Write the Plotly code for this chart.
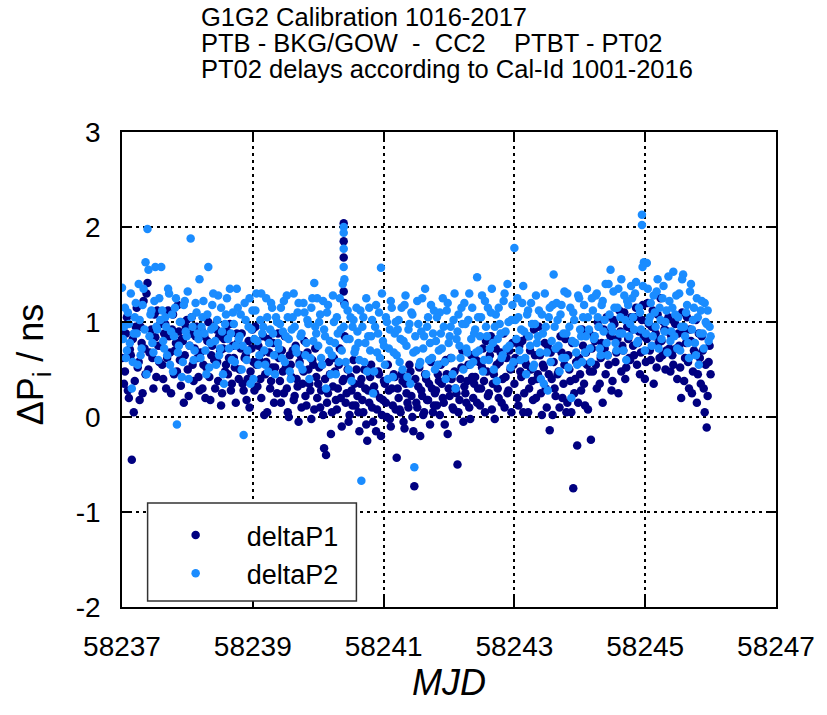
import numpy as np
import plotly.graph_objects as go

# ---------------- data ----------------
mjd_start = 58237.0
mjd_step = 0.03          # epoch spacing of the first satellite set
mjd_offset_b = 0.015     # second satellite set sits between the epochs

delta_p1 = [
    0.62, 0.35, 0.88, 0.28, 0.71, -0.45, 0.05, 0.95, 0.52, 0.18, 0.78, 1.22, 0.45, 1.41, 0.68, 0.92, 0.30, 0.84, 1.12, 0.58,
    0.75, 0.40, 0.98, 0.62, 0.85, 0.25, 1.08, 0.70, 0.48, 0.90, 0.33, 0.80, 0.65, 1.02, 0.22, 0.88, 0.55, 0.72, 0.95, 0.42,
    0.68, 0.30, 0.85, 0.52, 1.00, 0.18, 0.75, 0.60, 0.92, 0.38, 0.70, 0.25, 0.82, 0.55, 0.45, 0.98, 0.35, 0.62, 0.15, 0.78,
    0.50, 0.88, 0.28, 0.65, 0.40, 0.10, 0.72, 0.58, 0.95, 0.32, 0.60, 0.20, 0.85, 0.45, 0.05, 0.68, 0.38, 0.78, 0.52, 0.25,
    0.62, 0.15, 0.48, 0.85, 0.30, 0.00, 0.55, 0.70, 0.22, 0.40, -0.05, 0.65, 0.35, 0.80, 0.12, 0.50, 0.28, 0.60, 0.08, 0.42,
    0.35, 0.10, 0.55, -0.33, -0.40, 0.25, 0.45, 0.05, 0.62, 0.18, 0.30, 0.72, -0.10, 0.40, 0.15, 0.50, 0.02, 0.28, 0.60, 0.12,
    0.22, -0.15, 0.40, 0.05, 0.30, -0.25, 0.15, 0.55, -0.05, 0.25, 0.08, 0.45, -0.20, 0.18, 0.35, 0.00, 0.28, -0.10, 0.12, 0.42,
    -0.43, 0.20, 0.05, 0.38, -0.12, 0.25, 0.10, 0.48, 0.00, -0.73, 0.15, 0.32, -0.20, 0.22, 0.05, 0.40, 0.18, -0.08, 0.30, 0.12,
    0.28, 0.45, 0.02, 0.35, 0.15, 0.60, -0.18, 0.22, 0.40, 0.08, 0.30, -0.50, 0.18, 0.52, -0.05, 0.25, 0.38, 0.10, 0.65, 0.20,
    0.42, 0.15, 0.58, 0.30, 0.72, 0.05, 0.48, 0.25, 0.85, 0.35, -0.02, 0.55, 0.20, 0.68, 0.40, 0.10, 0.62, 0.28, 0.50, 0.78,
    0.35, 0.60, 0.12, 0.48, 0.80, 0.25, 0.55, 0.05, 0.70, 0.38, 0.92, 0.20, 0.45, 0.65, 0.02, 0.52, 0.30, 0.75, -0.14, 0.40,
    0.58, 0.22, 0.45, 0.10, 0.68, 0.35, 0.82, 0.15, 0.50, 0.05, -0.75, 0.40, -0.30, 0.62, 0.28, 0.75, 0.12, 0.55, 0.90, -0.24,
    0.48, 0.80, 0.30, 0.95, 0.62, 0.15, 0.72, 1.05, 0.55, 0.85, 0.38, 0.98, 0.68, 0.25, 0.90, 0.75, 1.10, 0.52, 0.82, 0.60,
    0.92, 0.65, 1.15, 0.78, 0.45, 1.02, 0.85, 0.58, 1.20, 0.70, 0.95, 0.35, 0.88, 1.08, 0.62, 0.80, 1.00, 0.50, 0.90, 0.72,
    0.85, 0.55, 0.98, 0.40, 0.75, 0.20, 0.90, 0.62, 1.05, 0.30, 0.80, 0.48, 0.68, 0.15, 0.88, 0.35, 0.70, 0.05, -0.11, 0.58,
    0.45,
]

delta_p1_b = [
    0.90, 0.48, 1.05, 0.20, 0.65, 0.82, 0.38, 1.15, 0.58, 0.95, 0.25, 0.72, 1.30, 0.50, 0.85, 0.62, 1.08, 0.42, 0.75, 0.98,
    0.55, 0.88, 0.30, 1.12, 0.68, 0.92, 0.45, 0.78, 1.18, 0.60, 0.82, 0.15, 0.95, 0.50, 0.75, 1.05, 0.38, 0.85, 0.62, 0.28,
    0.92, 0.55, 0.20, 0.80, 0.42, 0.65, 0.95, 0.30, 0.58, 0.85, 0.12, 0.72, 0.48, 0.90, 0.62, 0.28, 0.75, 0.52, 0.88, 0.40,
    0.72, 0.35, 0.62, 0.18, 0.80, 0.48, 0.92, 0.28, 0.55, 0.75, 0.40, 0.68, 0.02, 0.58, 0.82, 0.30, 0.52, 0.15, 0.65, 0.88,
    0.38, 0.70, 0.25, 0.52, 0.05, 0.65, 0.42, 0.18, 0.75, 0.32, 0.58, 0.10, 0.48, 0.22, 0.68, 0.35, -0.02, 0.55, 0.72, 0.20,
    0.52, 0.28, 0.02, 0.40, 0.15, 0.58, -0.18, 0.32, 0.48, 0.08, 0.55, 0.20, 0.38, 0.85, 0.25, -0.05, 0.42, 0.12, 0.35, 0.50,
    0.05, 0.35, 0.18, 0.50, -0.08, 0.28, 0.42, 0.10, 0.32, -0.15, 0.48, 0.20, 0.02, 0.38, 0.15, 0.55, -0.02, 0.30, 0.45, 0.08,
    0.30, 0.08, 0.45, -0.05, 0.35, 0.15, 0.55, 0.22, -0.15, 0.40, 0.10, 0.52, 0.28, 0.02, 0.45, 0.18, 0.35, 0.58, 0.05, 0.25,
    0.12, 0.38, 0.55, 0.20, -0.08, 0.45, 0.30, 0.62, 0.10, 0.48, 0.25, 0.05, 0.40, 0.70, 0.32, 0.15, 0.55, -0.02, 0.42, 0.35,
    0.60, 0.30, 0.12, 0.52, 0.38, 0.80, 0.22, 0.65, 0.08, 0.45, 0.72, 0.30, 0.58, 0.15, 0.88, 0.42, 0.25, 0.70, 0.05, 0.55,
    0.62, 0.20, 0.75, 0.42, 0.05, 0.58, 0.85, 0.30, 0.50, 0.18, 0.65, 0.40, 0.95, 0.25, 0.55, 0.78, 0.10, 0.45, 0.68, 0.02,
    0.30, 0.72, 0.48, 0.85, 0.20, 0.55, 0.05, 0.65, 0.38, 0.78, 0.25, 0.58, 0.15, 0.45, 0.92, 0.35, 0.68, 0.08, 0.48, 0.72,
    0.85, 0.55, 1.00, 0.35, 0.78, 0.92, 0.45, 0.65, 0.88, 0.28, 1.02, 0.58, 0.82, 1.12, 0.48, 0.70, 0.40, 0.95, 0.62, 1.05,
    0.75, 1.05, 0.55, 0.90, 0.68, 1.18, 0.40, 0.82, 0.98, 0.60, 1.12, 0.85, 0.52, 0.78, 1.25, 0.65, 0.92, 0.70, 1.05, 0.48,
    0.65, 1.00, 0.72, 0.88, 0.52, 1.10, 0.38, 0.78, 0.58, 0.92, 0.25, 0.70, 1.02, 0.45, 0.62, 0.85, 0.30, 0.55, 0.22, 0.75,
]

delta_p2 = [
    1.36, 0.95, 0.62, 1.10, 0.78, 0.30, 0.88, 1.20, 0.55, 1.02, 0.72, 1.35, 1.63, 1.98, 0.85, 1.12, 0.68, 1.58, 0.92, 1.25,
    1.58, 0.80, 1.05, 0.65, 1.30, 0.90, 0.48, 1.15, -0.08, 0.75, 1.00, 0.58, 1.22, 0.85, 0.40, 1.88, 0.95, 0.70, 1.10, 0.82,
    0.62, 1.05, 0.88, 0.45, 1.58, 0.78, 1.18, 0.95, 0.55, 1.28, 0.72, 0.90, 0.35, 1.08, 0.82, 1.35, 0.60, 0.98, 0.75, 1.15,
    0.85, 0.50, -0.19, 1.02, 0.70, 1.25, 0.92, 0.40, 1.12, 0.80, 0.65, 1.30, 0.95, 0.55, 1.05, 0.78, 1.20, 0.88, 0.45, 1.00,
    0.72, 1.15, 0.90, 0.58, 1.28, 0.82, 0.40, 1.05, 0.95, 0.68, 1.20, 0.85, 0.50, 1.10, 0.78, 0.98, 0.62, 1.25, 1.41, 0.88,
    0.75, 1.08, 0.55, 0.92, 0.30, 1.18, 0.80, 0.65, 1.00, 0.45, 0.88, 1.25, 0.70, 0.95, 0.58, 1.12, 0.82, 0.38, 1.02, 0.72,
    0.90, 0.60, -0.67, 1.05, 0.78, 0.48, 1.15, 0.85, 0.25, 0.95, 0.68, 1.10, 1.57, 0.80, 0.55, 1.00, 0.72, 1.22, 0.42, 0.88,
    0.65, 1.02, 0.82, 0.50, 1.18, 0.75, 0.92, 0.35, 1.08, -0.53, 0.70, 0.98, 0.58, 1.25, 0.85, 0.45, 1.05, 0.78, 0.62, 1.12,
    0.80, 0.55, 1.10, 0.72, 0.95, 0.40, 1.20, 0.85, 0.62, 1.02, 0.30, 0.90, 0.75, 1.15, 0.50, 0.98, 0.68, 1.30, 0.82, 0.58,
    0.92, 1.47, 0.70, 1.05, 0.48, 1.22, 0.85, 0.60, 1.10, 0.78, 0.95, 0.38, 1.15, 0.88, 0.65, 1.30, 0.72, 1.00, 0.52, 1.18,
    1.78, 0.82, 1.05, 0.60, 1.20, 0.90, 0.45, 1.12, 0.75, 0.98, 0.55, 1.28, 0.85, 0.68, 1.08, 0.35, 0.95, 0.28, 1.15, 0.80,
    1.50, 0.72, 1.02, 0.48, 1.18, 0.88, 0.62, 1.30, 0.95, 0.20, 1.10, 0.78, 0.55, 1.25, 0.85, 1.05, 0.68, 1.35, 0.92, 0.58,
    1.12, 0.85, 1.30, 0.95, 0.65, 1.22, 1.02, 0.78, 1.40, 1.55, 0.90, 1.15, 0.70, 1.35, 1.05, 0.88, 1.28, 0.60, 1.18, 0.98,
    1.25, 0.92, 1.42, 0.80, 1.10, 2.13, 1.63, 0.88, 1.35, 1.05, 0.75, 1.28, 0.95, 1.45, 1.15, 0.82, 1.38, 1.00, 0.68, 1.22,
    0.90, 1.53, 1.08, 0.72, 1.30, 0.95, 1.50, 0.85, 1.18, 0.62, 1.40, 1.02, 0.78, 1.25, 0.55, 1.12, 0.88, 1.20, 0.98, 0.80,
    0.85,
]

delta_p2_b = [
    0.82, 1.15, 0.70, 0.98, 1.30, 0.58, 1.05, 0.88, 1.40, 0.65, 1.18, 0.92, 0.45, 1.55, 1.08, 0.78, 1.22, 0.95, 0.60, 1.02,
    1.12, 0.72, 0.95, 1.35, 0.55, 1.08, 0.85, 1.25, 0.68, 1.00, 0.42, 1.18, 0.90, 1.32, 0.75, 1.05, 0.60, 1.20, 0.88, 1.45,
    0.95, 1.22, 0.70, 1.08, 0.52, 0.92, 1.30, 0.80, 1.02, 0.65, 1.15, 0.45, 0.98, 1.25, 0.72, 0.88, 1.10, 0.58, 1.35, 0.82,
    1.08, 0.75, 1.20, 0.60, 0.95, 0.35, 1.12, 0.82, 1.30, 0.55, 1.02, 0.88, 0.70, 1.25, 0.48, 0.92, 1.15, 0.65, 1.05, 0.78,
    0.98, 0.62, 1.22, 0.85, 1.05, 0.48, 0.92, 1.30, 0.72, 1.10, 0.55, 0.88, 1.20, 0.65, 1.02, 0.40, 1.15, 0.80, 0.95, 1.25,
    1.00, 0.62, 1.22, 0.85, 1.10, 0.70, 0.45, 1.28, 0.78, 1.05, 0.58, 0.92, 1.40, 1.18, 0.82, 0.50, 1.05, 0.95, 0.68, 1.15,
    0.78, 1.12, 0.95, 0.58, 1.25, 0.85, 0.70, 1.02, 0.48, 1.18, 0.88, 0.62, 1.30, 0.75, 1.05, 0.40, 0.92, 1.15, 0.68, 1.00,
    0.92, 0.58, 1.15, 0.80, 1.28, 0.42, 0.98, 1.10, 0.68, 0.85, 1.22, 0.55, 0.90, 0.72, 1.35, 0.95, 0.60, 1.18, 0.88, 0.50,
    1.05, 0.70, 0.88, 1.25, 0.58, 1.12, 0.78, 0.95, 0.45, 1.30, 0.82, 1.08, 0.62, 0.98, 1.20, 0.72, 1.02, 0.55, 1.15, 0.88,
    0.68, 1.05, 0.85, 1.28, 0.60, 0.95, 1.15, 0.72, 1.35, 0.50, 1.08, 0.82, 0.98, 0.62, 1.22, 0.90, 1.40, 0.75, 1.02, 0.58,
    1.02, 1.25, 0.70, 0.92, 1.38, 0.62, 1.08, 0.85, 1.20, 0.52, 0.98, 0.78, 1.12, 0.40, 0.88, 1.30, 0.68, 1.05, 0.58, 1.18,
    0.95, 1.20, 0.75, 1.08, 0.62, 1.32, 0.88, 0.52, 1.15, 0.80, 1.02, 0.68, 1.28, 0.92, 0.58, 1.18, 0.85, 1.05, 0.72, 1.25,
    0.82, 1.28, 1.05, 0.72, 1.18, 0.90, 1.40, 0.65, 1.08, 0.95, 1.32, 0.78, 1.15, 0.88, 1.45, 0.70, 1.02, 1.22, 0.85, 1.38,
    1.05, 1.30, 0.78, 1.15, 0.92, 1.38, 0.70, 1.62, 1.00, 1.20, 0.85, 1.10, 1.32, 0.72, 1.02, 1.25, 0.90, 1.12, 1.48, 0.80,
    1.15, 0.85, 1.28, 1.05, 0.70, 1.45, 0.95, 1.10, 0.78, 1.32, 0.92, 1.15, 0.65, 1.05, 0.88, 1.22, 0.72, 1.00, 1.12, 0.95,
]

# isolated epochs (spikes) read separately
p1_extra_mjd = [58240.39, 58240.39, 58240.39, 58240.39, 58240.40]
p1_extra_val = [2.04, 1.85, 1.68, 1.32, 1.20]
p2_extra_mjd = [58240.39, 58240.39, 58240.39, 58240.39, 58240.40, 58244.95, 58244.96]
p2_extra_val = [2.00, 1.94, 1.77, 1.58, 1.45, 2.02, 1.58]

x_ticks = [58237, 58239, 58241, 58243, 58245, 58247]
y_ticks = [-2, -1, 0, 1, 2, 3]
title_lines = [
    "G1G2 Calibration 1016-2017",
    "PTB - BKG/GOW  -  CC2    PTBT - PT02",
    "PT02 delays according to Cal-Id 1001-2016",
]

# ---------------- build ----------------
def epochs(n, offset=0.0):
    return list(mjd_start + offset + mjd_step * np.arange(n))

mjd1 = epochs(len(delta_p1)) + epochs(len(delta_p1_b), mjd_offset_b) + p1_extra_mjd
val1 = delta_p1 + delta_p1_b + p1_extra_val
mjd2 = epochs(len(delta_p2)) + epochs(len(delta_p2_b), mjd_offset_b) + p2_extra_mjd
val2 = delta_p2 + delta_p2_b + p2_extra_val

FONT = "Liberation Sans, Arial, sans-serif"
DARK = "#000080"
LIGHT = "#1a8cff"

fig = go.Figure()
fig.add_trace(go.Scatter(x=mjd1, y=val1, mode="markers", name="deltaP1",
                         marker=dict(color=DARK, size=8.5, line=dict(width=0))))
fig.add_trace(go.Scatter(x=mjd2, y=val2, mode="markers", name="deltaP2",
                         marker=dict(color=LIGHT, size=8.5, line=dict(width=0))))

axis_common = dict(
    showline=True, linecolor="black", linewidth=1.5, mirror="ticks",
    ticks="inside", ticklen=10, tickwidth=1.5, tickcolor="black",
    showgrid=True, gridcolor="black", gridwidth=2, griddash="2.5px,4.5px",
    zeroline=False, tickfont=dict(family=FONT, size=28, color="black"),
    ticklabelstandoff=14,
)

fig.update_xaxes(range=[58237, 58247], tickvals=x_ticks,
                 ticktext=[str(v) for v in x_ticks], **axis_common)
fig.update_yaxes(range=[-2, 3], tickvals=y_ticks,
                 ticktext=[str(v) for v in y_ticks], **axis_common)

annotations = []
for line, ypx in zip(title_lines, [17, 43, 69]):
    annotations.append(dict(
        text=line, xref="paper", yref="paper",
        x=(200 - 122) / 664, y=(607 - ypx) / 475,
        xanchor="left", yanchor="middle", showarrow=False,
        font=dict(family=FONT, size=25.5, color="black")))
annotations.append(dict(
    text="ΔP<sub>i</sub> / ns", xref="paper", yref="paper",
    x=(32 - 122) / 664, y=(607 - 364) / 475, textangle=-90,
    xanchor="center", yanchor="middle", showarrow=False,
    font=dict(family=FONT, size=36, color="black")))
annotations.append(dict(
    text="<i>MJD</i>", xref="paper", yref="paper",
    x=0.5, y=(607 - 682) / 475,
    xanchor="center", yanchor="middle", showarrow=False,
    font=dict(family=FONT, size=36, color="black")))

fig.update_layout(
    width=827, height=715,
    margin=dict(l=122, r=41, t=132, b=108),
    paper_bgcolor="white", plot_bgcolor="white",
    showlegend=True,
    legend=dict(x=(145 - 122) / 664, y=(607 - 511) / 475,
                xanchor="left", yanchor="top",
                bgcolor="rgba(0,0,0,0)", borderwidth=0,
                itemwidth=92, tracegroupgap=0,
                font=dict(family=FONT, size=27, color="black")),
    shapes=[dict(type="rect", xref="paper", yref="paper",
                 x0=(148 - 122) / 664, x1=(360 - 122) / 664,
                 y0=(607 - 601) / 475, y1=(607 - 503) / 475,
                 fillcolor="white", line=dict(color="#333333", width=1.5),
                 layer="above")],
    annotations=annotations,
)

fig.write_html("out.html")
